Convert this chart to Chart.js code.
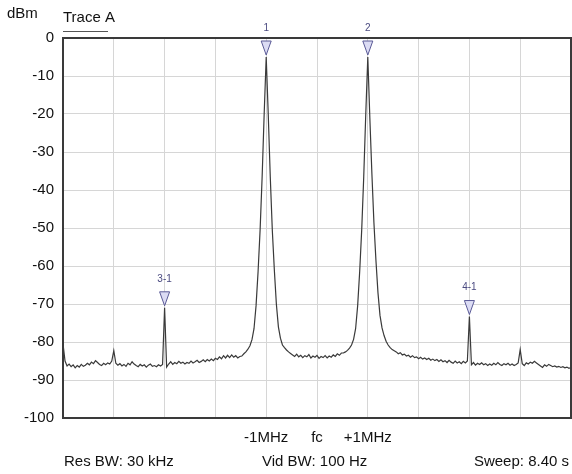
<!DOCTYPE html>
<html><head><meta charset="utf-8">
<script src="https://cdn.jsdelivr.net/npm/chart.js@4/dist/chart.umd.min.js"></script>
<style>html,body{margin:0;padding:0;background:#fff;}#wrap{width:572px;height:474px;position:relative;}</style>
</head><body><div id="wrap"><canvas id="c" width="572" height="474"></canvas></div>
<script>
// Sweep: -5 MHz .. +5 MHz around fc, 251 points
const START_MHZ = -5, STOP_MHZ = 5;
const traceDbm = [
-80.5,-85.0,-86.3,-85.8,-86.5,-86.0,-86.8,-86.2,-86.6,-85.9,
-86.4,-86.1,-85.6,-86.0,-85.3,-85.7,-84.9,-85.4,-85.9,-86.2,
-85.6,-86.0,-85.5,-85.8,-85.0,-82.3,-85.6,-86.1,
-85.7,-86.3,-85.9,-86.4,-85.6,-86.0,-85.2,-85.8,-86.2,-86.5,-85.9,-86.3,-86.0,-86.6,-86.1,-85.8,-86.4,-86.2,-86.5,-86.0,-86.3,-85.9,
-71.0,-86.6,
-85.8,-85.2,-85.9,-85.4,-85.7,-85.1,-85.6,-85.3,-85.8,-85.4,-85.6,-85.0,-85.5,-85.2,-84.8,-85.4,-85.1,-84.7,-85.2,-84.6,-85.0,-84.5,-84.9,-84.3,-84.6,-83.9,-84.4,-83.6,-84.2,-83.5,-84.1,-83.4,-84.0,-83.6,-84.2,-83.8,
-83.7,-83.1,-82.6,-81.9,-81.0,-79.4,-76.5,-70.5,-61.5,-50.5,-36.5,-20.0,-5.0,-20.0,-36.5,-50.5,-61.0,-70.0,-76.0,-79.0,-80.8,-81.5,-82.1,-82.6,-83.0,
-83.4,-83.8,-83.2,-83.9,-83.5,-84.1,-83.6,-83.9,-83.3,-84.2,-83.7,-84.0,-83.5,-84.3,-83.8,-84.1,-83.6,-84.2,-83.7,-84.0,-83.4,-83.8,-83.1,-83.5,-82.9,
-82.9,-82.6,-82.2,-81.6,-80.8,-79.3,-76.5,-70.5,-61.5,-50.5,-36.5,-20.0,-5.0,
-21.0,-35.5,-48.5,-58.5,-67.0,-73.0,-76.3,-78.3,-79.8,-80.8,-81.5,-82.0,-82.3,-82.6,-83.1,-82.8,-83.4,-83.2,-83.7,-83.5,-84.0,-83.6,-84.1,-83.9,-84.4,-84.0,-84.5,-84.2,-84.6,-84.3,-84.8,-84.5,-84.9,-84.6,-85.1,-84.7,-85.2,-84.9,
-85.4,-84.8,-85.3,-85.6,-85.0,-85.5,-85.2,-85.7,-85.1,-85.5,-85.0,
-73.3,
-86.0,-85.4,-86.1,-85.6,-85.9,-85.5,-86.0,-85.7,-86.2,-85.8,-86.1,-85.6,-86.0,-85.4,-85.9,-86.2,-85.7,-86.0,-85.6,-86.1,-85.8,-86.2,-85.9,-85.5,
-82.0,
-85.7,-86.2,-85.5,-85.8,-85.3,-85.6,-85.1,-85.5,-85.9,-86.3,-86.7,-86.0,-86.4,-85.9,-86.2,-86.5,-86.3,-86.6,-86.4,-86.7,-86.5,-86.8,-86.6,-86.9,-86.7
];
const xTickValues = [-1, 0, 1];
const xTickTexts = ['-1MHz', 'fc', '+1MHz'];
const markerNames = ['1', '2', '3-1', '4-1'];
const markerFreqs = [-1, 1, -3, 3];
const markerLevels = [-5, -5, -71, -73.3];
const footerTexts = ['Res BW: 30 kHz', 'Vid BW: 100 Hz', 'Sweep: 8.40 s'];
const unitText = 'dBm';
const traceName = 'Trace A';

const stepMHz = (STOP_MHZ - START_MHZ) / (traceDbm.length - 1);
const tracePoints = traceDbm.map((v, i) => ({x: START_MHZ + i * stepMHz, y: v}));
const FONT = "'Liberation Sans', Arial, sans-serif";

const decor = {
  id: 'decor',
  beforeDatasetsDraw(chart) {
    const {ctx, chartArea: a} = chart;
    ctx.save();
    ctx.strokeStyle = '#3a3a3a';
    ctx.lineWidth = 2;
    ctx.strokeRect(a.left, a.top, a.right - a.left, a.bottom - a.top);
    ctx.restore();
  },
  afterDatasetsDraw(chart) {
    const {ctx, scales: {x, y}} = chart;
    ctx.save();
    markerNames.forEach((name, k) => {
      const px = x.getPixelForValue(markerFreqs[k]);
      const py = y.getPixelForValue(markerLevels[k]) - 2;
      ctx.beginPath();
      ctx.moveTo(px - 5, py - 14);
      ctx.lineTo(px + 5, py - 14);
      ctx.lineTo(px, py);
      ctx.closePath();
      ctx.fillStyle = '#dcdcf4';
      ctx.fill();
      ctx.strokeStyle = '#5a5a96';
      ctx.lineWidth = 1;
      ctx.stroke();
      ctx.fillStyle = '#4a4a80';
      ctx.font = '10px ' + FONT;
      ctx.textAlign = 'center';
      ctx.textBaseline = 'middle';
      ctx.fillText(name, px, py - 27);
    });
    ctx.restore();
  },
  afterDraw(chart) {
    const {ctx, chartArea: a} = chart;
    ctx.save();
    ctx.fillStyle = '#111';
    ctx.font = '15px ' + FONT;
    ctx.textBaseline = 'middle';
    ctx.textAlign = 'left';
    ctx.fillText(unitText, 7, 14);
    ctx.fillText(traceName, a.left, 18);
    ctx.strokeStyle = '#555';
    ctx.lineWidth = 1;
    ctx.beginPath();
    ctx.moveTo(a.left, 31.5);
    ctx.lineTo(a.left + 45, 31.5);
    ctx.stroke();
    ctx.fillText(footerTexts[0], a.left + 1, 462);
    ctx.fillText(footerTexts[1], 262, 462);
    ctx.textAlign = 'right';
    ctx.fillText(footerTexts[2], a.right - 2, 462);
    ctx.restore();
  }
};

new Chart(document.getElementById('c'), {
  type: 'line',
  data: {
    datasets: [{
      data: tracePoints,
      borderColor: '#3a3a3a',
      borderWidth: 1.2,
      pointRadius: 0,
      tension: 0,
      fill: false
    }]
  },
  options: {
    responsive: false,
    animation: false,
    devicePixelRatio: 1,
    layout: {padding: {top: 38, right: 1, left: 0, bottom: 0}},
    plugins: {legend: {display: false}, tooltip: {enabled: false}},
    scales: {
      x: {
        type: 'linear', min: START_MHZ, max: STOP_MHZ,
        afterFit(s) { s.height = 56; s.paddingLeft = 0; s.paddingRight = 0; },
        grid: {color: '#d6d6d6', lineWidth: 1, drawTicks: false},
        border: {display: false},
        ticks: {
          stepSize: 1, autoSkip: false, maxRotation: 0, padding: 11,
          color: '#111', font: {family: FONT, size: 15},
          callback(v) { const k = xTickValues.indexOf(v); return k >= 0 ? xTickTexts[k] : ''; }
        }
      },
      y: {
        min: -100, max: 0,
        afterFit(s) { s.width = 63; s.paddingTop = 0; s.paddingBottom = 0; },
        grid: {color: '#d6d6d6', lineWidth: 1, drawTicks: false},
        border: {display: false},
        ticks: {stepSize: 10, padding: 9, color: '#111', font: {family: FONT, size: 15}}
      }
    }
  },
  plugins: [decor]
});
</script>
</body></html>
